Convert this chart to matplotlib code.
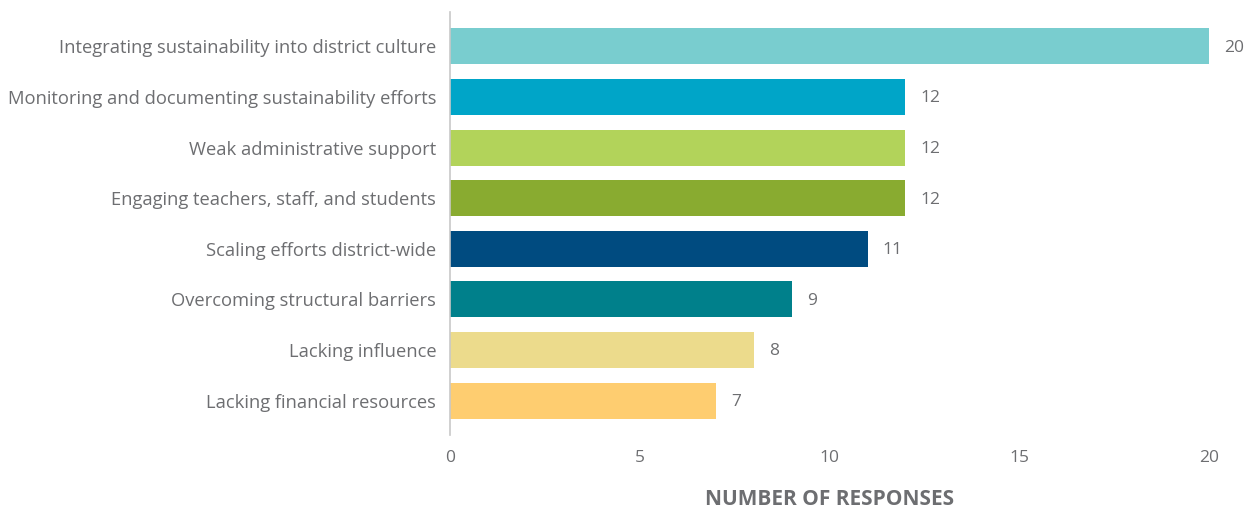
import matplotlib.pyplot as plt

# challenges reported, top to bottom
challenges = [
    "Integrating sustainability into district culture",
    "Monitoring and documenting sustainability efforts",
    "Weak administrative support",
    "Engaging teachers, staff, and students",
    "Scaling efforts district-wide",
    "Overcoming structural barriers",
    "Lacking influence",
    "Lacking financial resources",
]
responses = [20, 12, 12, 12, 11, 9, 8, 7]
bar_colors = ["#79cdcf", "#00a5c8", "#b2d35a", "#89ab30",
              "#004b80", "#00808b", "#ecdb8c", "#fecd70"]
xticks = [0, 5, 10, 15, 20]

text_gray = "#6d6e71"
plt.rcParams["font.family"] = ["Open Sans", "DejaVu Sans"]

fig = plt.figure(figsize=(12.55, 5.08), dpi=100)
ax = fig.add_axes([0.3586, 0.1437, 0.6048, 0.8327])

ypos = list(range(len(challenges)))
ax.barh(ypos, responses, height=0.71, color=bar_colors)

for y, v in zip(ypos, responses):
    ax.annotate(str(v), (v, y), xytext=(11, -1), textcoords="offset points",
                va="center", ha="left", fontsize=12.5, color=text_gray,
                annotation_clip=False)

ax.set_xlim(0, 20)
ax.set_ylim(len(challenges) - 1 + 0.68, -0.68)
ax.set_yticks(ypos)
ax.set_yticklabels(challenges)
ax.set_xticks(xticks)

ax.tick_params(axis="both", length=0, labelsize=12.5, colors=text_gray)
ax.tick_params(axis="y", labelsize=13.2, pad=10)
ax.tick_params(axis="x", pad=11)

for side in ["top", "right", "bottom"]:
    ax.spines[side].set_visible(False)
ax.spines["left"].set_color("#c8c8c8")
ax.spines["left"].set_linewidth(1.2)

ax.set_xlabel("NUMBER OF RESPONSES", fontsize=15, fontweight="bold",
              color=text_gray, labelpad=16)

fig.savefig("out.png", dpi=100)
